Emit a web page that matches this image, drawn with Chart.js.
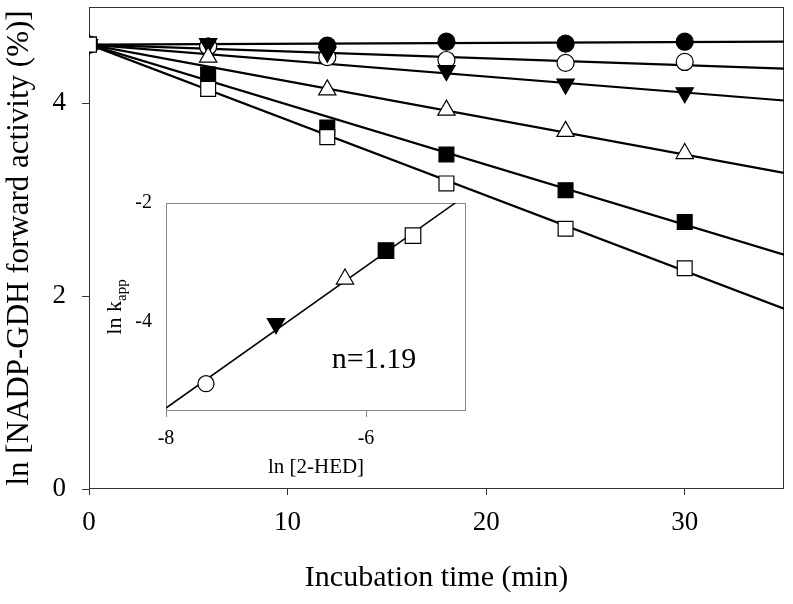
<!DOCTYPE html>
<html><head><meta charset="utf-8">
<script src="https://cdn.jsdelivr.net/npm/chart.js@4.4.1/dist/chart.umd.min.js"></script>
<style>
html,body{margin:0;padding:0;background:#fff;}
#wrap{position:relative;width:793px;height:604px;background:#fff;}
canvas{position:absolute;left:0;top:0;}
</style></head><body>
<div id="wrap"><canvas id="main" width="793" height="604"></canvas><canvas id="inset" width="793" height="604"></canvas></div>
<script>
// ---- main chart data ----
const times = [0, 6, 12, 18, 24, 30];
const filledCircle = [4.61, 4.59, 4.60, 4.64, 4.62, 4.64];
const openCircle   = [4.61, 4.59, 4.48, 4.45, 4.42, 4.43];
const downTriangle = [4.61, 4.62, 4.53, 4.34, 4.20, 4.11];
const upTriangle   = [4.61, 4.48, 4.14, 3.93, 3.71, 3.48];
const filledSquare = [4.61, 4.30, 3.75, 3.47, 3.10, 2.77];
const openSquare   = [4.61, 4.15, 3.65, 3.17, 2.70, 2.29];
// fitted lines: value at t = 0 and t = 35
const fitTimes = [0, 35];
const fitFilledCircle = [4.61, 4.64];
const fitOpenCircle   = [4.61, 4.36];
const fitDownTriangle = [4.61, 4.03];
const fitUpTriangle   = [4.61, 3.28];
const fitFilledSquare = [4.61, 2.43];
const fitOpenSquare   = [4.61, 1.87];
const xTicks = [0, 10, 20, 30];
const yTicks = [0, 2, 4];

// ---- inset data (ln kapp vs ln [2-HED]) ----
const insetLnConc = [-7.60, -6.90, -6.21, -5.80, -5.53];
const insetLnK    = [-5.04, -4.03, -3.28, -2.80, -2.55];
const insetFitX = [-8, -5.1];
const insetFitY = [-5.45, -1.99];
const insetXTicks = [-8, -6];
const insetYTicks = [-4, -2];
const insetSlopeText = 'n=1.19';

const SERIF = "'Liberation Serif', 'Times New Roman', serif";
const pts = (xs, ys) => xs.map((x, i) => ({x, y: ys[i]}));

function markerSet(ys, style, fill, radius, rot, order) {
  return {data: pts(times, ys), showLine: false, pointStyle: style, pointRotation: rot,
    pointBackgroundColor: fill, pointBorderColor: '#000', pointBorderWidth: 1.2,
    pointRadius: radius, order: order};
}
function fitSet(ys) {
  return {data: pts(fitTimes, ys), showLine: true, borderColor: '#000', borderWidth: 2.2,
    pointRadius: 0, order: 100};
}

const frame = (color) => ({
  id: 'frame',
  beforeDatasetsDraw(chart) {
    const a = chart.chartArea, c = chart.ctx;
    c.save(); c.strokeStyle = color; c.lineWidth = 1;
    c.strokeRect(Math.round(a.left) + 0.5, Math.round(a.top) + 0.5,
                 Math.round(a.right - a.left) - 1, Math.round(a.bottom - a.top) - 1);
    c.restore();
  }
});
const noPad = s => { s.paddingTop = 0; s.paddingBottom = 0; s.paddingLeft = 0; s.paddingRight = 0; };

new Chart(document.getElementById('main'), {
  type: 'scatter',
  data: {datasets: [
    fitSet(fitFilledCircle), fitSet(fitOpenCircle), fitSet(fitDownTriangle),
    fitSet(fitUpTriangle), fitSet(fitFilledSquare), fitSet(fitOpenSquare),
    markerSet(filledCircle, 'circle', '#000', 8.5, 0, 6),
    markerSet(openCircle, 'circle', '#fff', 8.5, 0, 5),
    markerSet(downTriangle, 'triangle', '#000', 10, 180, 4),
    markerSet(upTriangle, 'triangle', '#fff', 10, 0, 3),
    markerSet(filledSquare, 'rect', '#000', 10.5, 0, 2),
    markerSet(openSquare, 'rect', '#fff', 10.5, 0, 1)
  ]},
  options: {
    responsive: false, animation: false, devicePixelRatio: 1,
    layout: {autoPadding: false, padding: {top: 7, right: 9, left: 0, bottom: 0}},
    plugins: {legend: {display: false}, tooltip: {enabled: false}},
    scales: {
      x: {type: 'linear', min: 0, max: 35,
        afterBuildTicks: s => { s.ticks = xTicks.map(v => ({value: v})); },
        afterFit: s => { s.height = 115; noPad(s); },
        grid: {drawOnChartArea: false, drawTicks: true, tickLength: 6, color: '#333'},
        border: {display: false},
        ticks: {padding: 12, color: '#000', maxRotation: 0, autoSkip: false, font: {family: SERIF, size: 27}},
        title: {display: true, text: 'Incubation time (min)', color: '#000',
          font: {family: SERIF, size: 30}, padding: {top: 0, bottom: 8}}
      },
      y: {type: 'linear', min: 0, max: 5,
        afterBuildTicks: s => { s.ticks = yTicks.map(v => ({value: v})); },
        afterFit: s => { s.width = 89; noPad(s); },
        grid: {drawOnChartArea: false, drawTicks: true, tickLength: 7, color: '#333'},
        border: {display: false},
        ticks: {padding: 16, color: '#000', autoSkip: false, font: {family: SERIF, size: 27}},
        title: {display: true, text: 'ln [NADP-GDH forward activity (%)]', color: '#000',
          font: {family: SERIF, size: 31}, padding: {top: 1, bottom: 0}}
      }
    }
  },
  plugins: [frame('#333')]
});

const insetText = {
  id: 'insetText',
  afterDraw(chart) {
    const c = chart.ctx;
    c.save();
    c.fillStyle = '#000';
    c.textBaseline = 'alphabetic';
    c.textAlign = 'center';
    c.font = '30px ' + SERIF;
    c.fillText(insetSlopeText, 374, 368);
    // rotated y title with subscript
    c.translate(121, 307);
    c.rotate(-Math.PI / 2);
    c.textAlign = 'left';
    c.font = '22px ' + SERIF;
    const main = 'ln k';
    const wm = c.measureText(main).width;
    c.font = '15px ' + SERIF;
    const ws = c.measureText('app').width;
    const x0 = -(wm + ws) / 2;
    c.font = '22px ' + SERIF;
    c.fillText(main, x0, 0);
    c.font = '15px ' + SERIF;
    c.fillText('app', x0 + wm, 5);
    c.restore();
  }
};

new Chart(document.getElementById('inset'), {
  type: 'scatter',
  data: {datasets: [
    {data: pts(insetFitX, insetFitY), showLine: true, borderColor: '#000', borderWidth: 1.5, pointRadius: 0, order: 2},
    {data: pts(insetLnConc, insetLnK), showLine: false,
      pointStyle: ['circle', 'triangle', 'triangle', 'rect', 'rect'],
      pointRotation: [0, 180, 0, 0, 0],
      pointBackgroundColor: ['#fff', '#000', '#fff', '#000', '#fff'],
      pointBorderColor: '#000', pointBorderWidth: 1.2,
      pointRadius: [8, 10, 10, 11, 11], order: 1}
  ]},
  options: {
    responsive: false, animation: false, devicePixelRatio: 1,
    layout: {autoPadding: false, padding: {top: 203, right: 327, left: 0, bottom: 123}},
    plugins: {legend: {display: false}, tooltip: {enabled: false}},
    scales: {
      x: {type: 'linear', min: -8, max: -5,
        afterBuildTicks: s => { s.ticks = insetXTicks.map(v => ({value: v})); },
        afterFit: s => { s.height = 70; noPad(s); },
        grid: {drawOnChartArea: false, drawTicks: true, tickLength: 6, color: '#888'},
        border: {display: false},
        ticks: {padding: 10, color: '#000', maxRotation: 0, autoSkip: false, font: {family: SERIF, size: 20}},
        title: {display: true, text: 'ln [2-HED]', color: '#000',
          font: {family: SERIF, size: 21}, padding: {top: 0, bottom: 1}}
      },
      y: {type: 'linear', min: -5.5, max: -2,
        afterBuildTicks: s => { s.ticks = insetYTicks.map(v => ({value: v})); },
        afterFit: s => { s.width = 166; noPad(s); },
        grid: {drawOnChartArea: false, drawTicks: false, color: '#888'},
        border: {display: false},
        ticks: {padding: 14, color: '#000', autoSkip: false, font: {family: SERIF, size: 20}}
      }
    }
  },
  plugins: [frame('#888'), insetText]
});
</script>
</body></html>
